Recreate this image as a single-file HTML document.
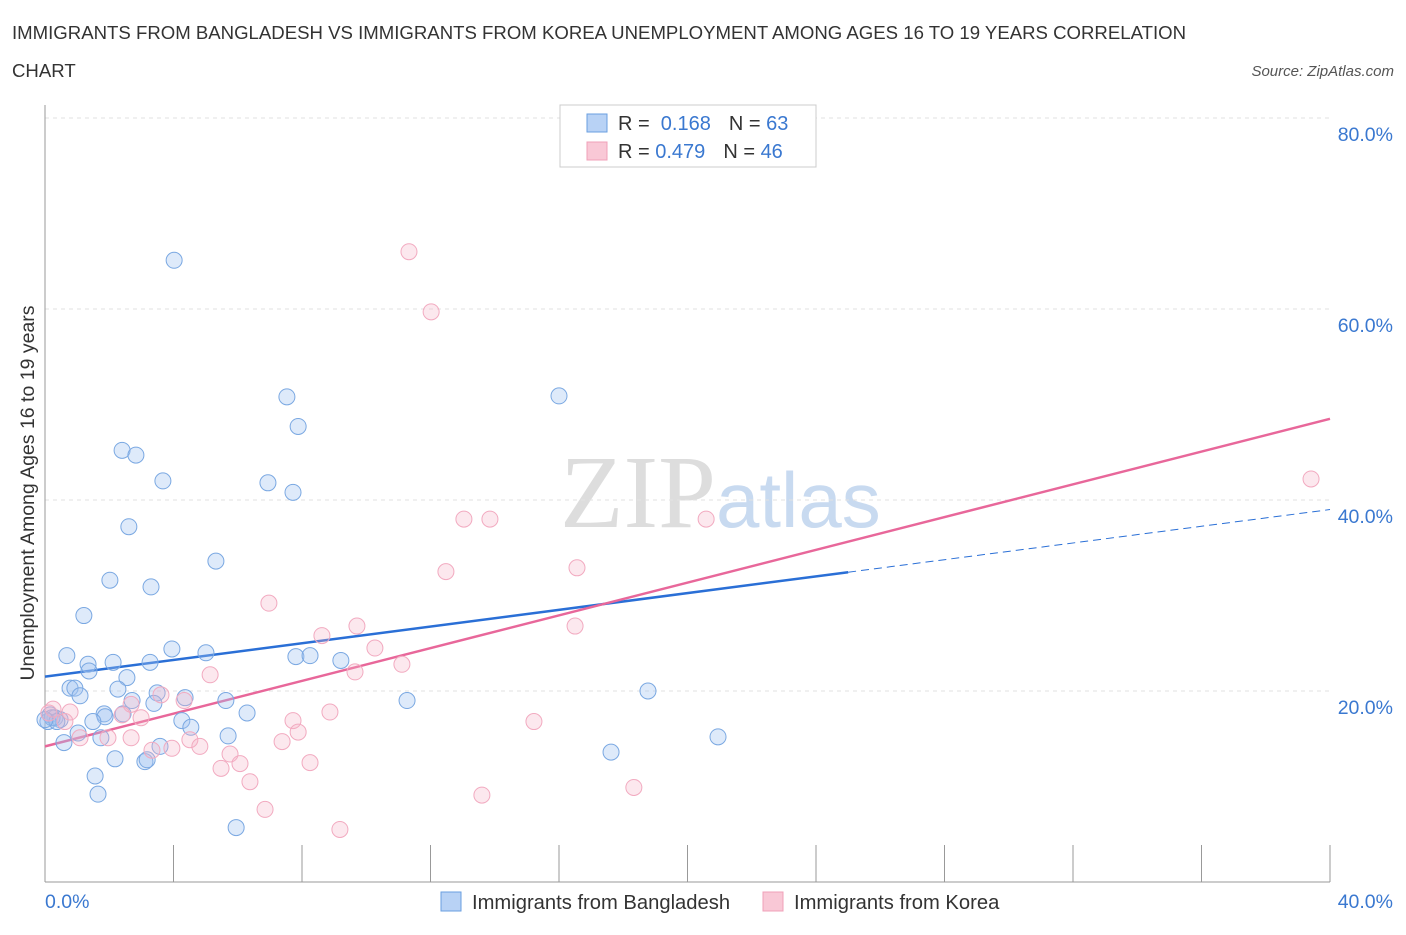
<!DOCTYPE html>
<html><head><meta charset="utf-8"><style>
body{margin:0;background:#fff;font-family:"Liberation Sans",sans-serif;}
svg text{font-family:"Liberation Sans",sans-serif;}
</style></head><body>
<svg id="chart" width="1406" height="930" xmlns="http://www.w3.org/2000/svg">
<text x="12" y="39" font-size="18.6" fill="#333">IMMIGRANTS FROM BANGLADESH VS IMMIGRANTS FROM KOREA UNEMPLOYMENT AMONG AGES 16 TO 19 YEARS CORRELATION</text>
<text x="12" y="77" font-size="18.6" fill="#333">CHART</text>
<text x="1394" y="76" font-size="15" fill="#555" font-style="italic" text-anchor="end">Source: ZipAtlas.com</text>
<text x="716" y="527" font-size="104" fill="#ddd" text-anchor="end" style="font-family:'Liberation Serif',serif">ZIP</text>
<text x="716" y="527" font-size="78" fill="#c8daf0">atlas</text>
<g id="grid"></g><g id="axes"></g><g id="lines"></g><g id="pts"></g>
<text transform="translate(34,493) rotate(-90)" font-size="19.5" fill="#333" text-anchor="middle">Unemployment Among Ages 16 to 19 years</text>
<g>
<rect x="560" y="105" width="256" height="62" fill="#fff" stroke="#ccc"/>
<rect x="587" y="114" width="20" height="18" fill="#b8d2f5" stroke="#6a9fe0"/>
<rect x="587" y="142" width="20" height="18" fill="#f9c8d6" stroke="#f0a0b8"/>
<text x="618" y="130" font-size="20" fill="#333">R = <tspan fill="#3a78d0">&#160;0.168</tspan><tspan dx="18" fill="#333">N = </tspan><tspan fill="#3a78d0">63</tspan></text>
<text x="618" y="158" font-size="20" fill="#333">R = <tspan fill="#3a78d0">0.479</tspan><tspan dx="18" fill="#333">N = </tspan><tspan fill="#3a78d0">46</tspan></text>
</g>
<g>
<rect x="441" y="892" width="20" height="19" fill="#b8d2f5" stroke="#6a9fe0"/>
<text x="472" y="909" font-size="20.2" fill="#333">Immigrants from Bangladesh</text>
<rect x="763" y="892" width="20" height="19" fill="#f9c8d6" stroke="#f0a0b8"/>
<text x="794" y="909" font-size="20.2" fill="#333">Immigrants from Korea</text>
</g>
</svg>
<script>
const yTicks=[20,40,60,80];
const yTickLabels=["20.0%","40.0%","60.0%","80.0%"];
const xTicks=[0,4,8,12,16,20,24,28,32,36,40];
const blueX=[4.02,7.53,7.88,16.0,2.40,2.83,3.67,6.94,7.72,2.61,5.32,2.02,3.30,1.21,0.68,1.34,2.12,1.37,3.27,3.95,5.01,7.81,8.25,9.21,2.55,0.78,0.93,2.27,1.09,3.49,4.36,3.39,2.71,5.63,11.27,18.77,6.29,0.16,0.31,0.47,0.09,1.84,1.87,2.43,1.49,4.26,4.54,1.03,1.74,0.59,5.70,3.58,2.18,3.11,3.18,1.56,1.65,5.95,17.62,20.95,0.22,0.37,0.0];
const blueY=[65.1,50.8,47.7,50.9,45.2,44.7,42.0,41.8,40.8,37.2,33.6,31.6,30.9,27.9,23.7,22.8,23.0,22.1,23.0,24.4,24.0,23.6,23.7,23.2,21.4,20.3,20.3,20.2,19.5,19.8,19.3,18.7,19.0,19.0,19.0,20.0,17.7,17.5,17.2,17.0,16.8,17.6,17.3,17.6,16.8,16.9,16.2,15.6,15.1,14.6,15.3,14.2,12.9,12.6,12.8,11.1,9.2,5.7,13.6,15.2,17.2,16.8,17.0];
const pinkX=[11.33,12.02,39.41,13.04,13.85,20.58,12.48,16.56,6.97,8.62,9.71,10.27,16.50,11.11,9.65,5.14,3.61,4.33,2.68,8.87,7.72,7.88,15.22,2.40,2.99,0.12,0.25,0.62,1.09,1.96,2.68,3.33,3.95,4.51,4.82,5.76,6.07,5.48,6.38,7.38,8.25,6.85,13.60,18.33,9.18,0.78];
const pinkY=[66.0,59.7,42.2,38.0,38.0,38.0,32.5,32.9,29.2,25.8,26.8,24.5,26.8,22.8,22.0,21.7,19.6,19.0,18.6,17.8,16.9,15.7,16.8,17.5,17.2,17.7,18.1,16.8,15.1,15.1,15.1,13.8,14.0,14.9,14.2,13.4,12.4,11.9,10.5,14.7,12.5,7.6,9.1,9.9,5.5,17.8];
const blueTrend=[21.5,39.0];
const blueSolidEnd=25.0;
const pinkTrend=[14.2,48.5];

const X=v=>45+v*(1285/40);
const Y=v=>882-v*(764/80);
const NS="http://www.w3.org/2000/svg";
function mk(t,a,p){const e=document.createElementNS(NS,t);for(const k in a)e.setAttribute(k,a[k]);p.appendChild(e);return e;}
const grid=document.getElementById('grid'),axes=document.getElementById('axes'),lines=document.getElementById('lines'),pts=document.getElementById('pts');
yTicks.forEach((t,i)=>{
 const l=mk('line',{x1:45,x2:1330,y1:Y(t),y2:Y(t),stroke:'#e2e2e2','stroke-dasharray':'4,4'},grid);
 
 
 const tx=mk('text',{x:1393,y:Y(t)+23,'font-size':19.5,fill:'#3a78d0','text-anchor':'end'},axes);
 tx.textContent=yTickLabels[i];
 
 
});
const ax=mk('line',{x1:45,x2:45,y1:105,y2:882,stroke:'#999'},axes);


const bx=mk('line',{x1:45,x2:1330,y1:882,y2:882,stroke:'#999'},axes);


xTicks.forEach(t=>{
 const l=mk('line',{x1:X(t),x2:X(t),y1:845,y2:882,stroke:'#999'},axes);
 
 
});
const xl0=mk('text',{x:45,y:908,'font-size':19.5,fill:'#3a78d0'},axes);xl0.textContent='0.0%';


const xl1=mk('text',{x:1393,y:908,'font-size':19.5,fill:'#3a78d0','text-anchor':'end'},axes);xl1.textContent='40.0%';


function bl(x){return blueTrend[0]+(blueTrend[1]-blueTrend[0])*x/40;}
function pl(x){return pinkTrend[0]+(pinkTrend[1]-pinkTrend[0])*x/40;}
blueX.forEach((x,i)=>{const c=mk('circle',{cx:X(x),cy:Y(blueY[i]),r:8,fill:'rgba(160,196,240,0.35)',stroke:'#7aa8e2','stroke-width':1},pts);
 
 });
pinkX.forEach((x,i)=>{const c=mk('circle',{cx:X(x),cy:Y(pinkY[i]),r:8,fill:'rgba(245,180,200,0.3)',stroke:'#f2aac0','stroke-width':1},pts);
 
 });
const b1=mk('line',{x1:X(0),y1:Y(bl(0)),x2:X(blueSolidEnd),y2:Y(bl(blueSolidEnd)),stroke:'#2a6fd6','stroke-width':2.5},lines);


const b2=mk('line',{x1:X(blueSolidEnd),y1:Y(bl(blueSolidEnd)),x2:X(40),y2:Y(bl(40)),stroke:'#2a6fd6','stroke-width':1,'stroke-dasharray':'8,5'},lines);


const p1=mk('line',{x1:X(0),y1:Y(pl(0)),x2:X(40),y2:Y(pl(40)),stroke:'#e8679a','stroke-width':2.5},lines);


</script>
</body></html>
